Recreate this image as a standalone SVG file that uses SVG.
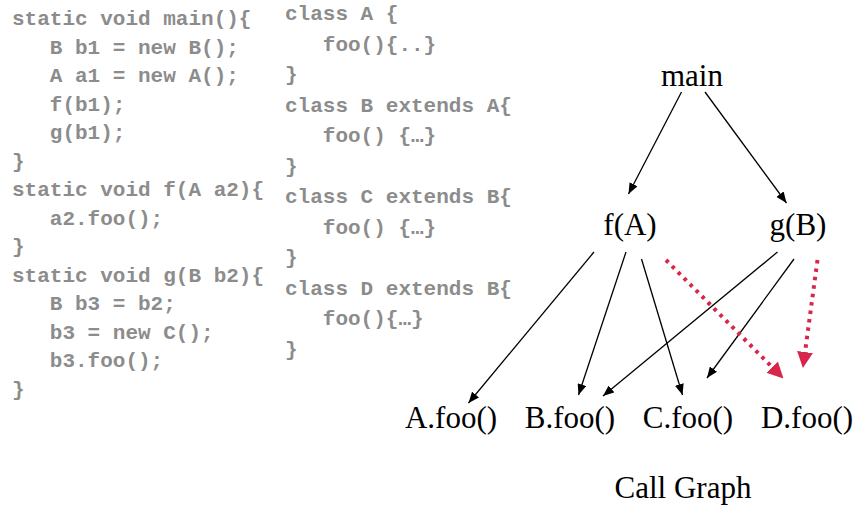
<svg xmlns="http://www.w3.org/2000/svg" width="859" height="511" viewBox="0 0 859 511">
  <style>
    .code { font-family: "Liberation Mono", "Courier New", monospace; font-weight: bold; font-size: 21px; fill: #8c8c8c; white-space: pre; }
    .node { font-family: "Liberation Serif", "Times New Roman", serif; font-size: 31px; fill: #000; text-anchor: middle; }
    .edge { stroke: #000; stroke-width: 1.3; fill: none; marker-end: url(#arrowBlack); }
    .extra { stroke: #d9254a; stroke-width: 4; stroke-dasharray: 3.5 5; fill: none; marker-end: url(#arrowRed); }
  </style>
  <defs>
    <marker id="arrowBlack" viewBox="0 0 11 9" refX="11" refY="4.5" markerWidth="11" markerHeight="9" markerUnits="userSpaceOnUse" orient="auto">
      <path d="M0,0 L11,4.5 L0,9 Z" fill="#000"/>
    </marker>
    <marker id="arrowRed" viewBox="0 0 16 16" refX="4" refY="8" markerWidth="16" markerHeight="16" markerUnits="userSpaceOnUse" orient="auto">
      <path d="M0,0 L16,8 L0,16 Z" fill="#d9254a"/>
    </marker>
  </defs>

  <!-- source listing: static methods -->
  <g id="code-methods">
    <text class="code" x="12" y="25">static void main(){</text>
    <text class="code" x="12" y="53.5">   B b1 = new B();</text>
    <text class="code" x="12" y="82">   A a1 = new A();</text>
    <text class="code" x="12" y="110.5">   f(b1);</text>
    <text class="code" x="12" y="139">   g(b1);</text>
    <text class="code" x="12" y="167.5">}</text>
    <text class="code" x="12" y="196">static void f(A a2){</text>
    <text class="code" x="12" y="224.5">   a2.foo();</text>
    <text class="code" x="12" y="253">}</text>
    <text class="code" x="12" y="281.5">static void g(B b2){</text>
    <text class="code" x="12" y="310">   B b3 = b2;</text>
    <text class="code" x="12" y="338.5">   b3 = new C();</text>
    <text class="code" x="12" y="367">   b3.foo();</text>
    <text class="code" x="12" y="395.5">}</text>
  </g>

  <!-- source listing: class hierarchy -->
  <g id="code-classes">
    <text class="code" x="285" y="20">class A {</text>
    <text class="code" x="285" y="50.5">   foo(){..}</text>
    <text class="code" x="285" y="81">}</text>
    <text class="code" x="285" y="111.5">class B extends A{</text>
    <text class="code" x="285" y="142">   foo() {…}</text>
    <text class="code" x="285" y="172.5">}</text>
    <text class="code" x="285" y="203">class C extends B{</text>
    <text class="code" x="285" y="233.5">   foo() {…}</text>
    <text class="code" x="285" y="264">}</text>
    <text class="code" x="285" y="294.5">class D extends B{</text>
    <text class="code" x="285" y="325">   foo(){…}</text>
    <text class="code" x="285" y="355.5">}</text>
  </g>

  <!-- call graph edges -->
  <g id="connectors">
    <line class="edge" x1="681.5" y1="92" x2="628.5" y2="194"/>
    <line class="edge" x1="705" y1="92" x2="786.5" y2="203"/>
    <line class="edge" x1="594" y1="252" x2="468.5" y2="403"/>
    <line class="edge" x1="626" y1="252" x2="578.5" y2="395"/>
    <line class="edge" x1="641.5" y1="259" x2="682.5" y2="395"/>
    <line class="edge" x1="777.5" y1="252" x2="603" y2="396"/>
    <line class="edge" x1="794" y1="259" x2="707" y2="378"/>
    <line class="extra" x1="666" y1="260" x2="775" y2="370"/>
    <line class="extra" x1="817.5" y1="260" x2="804.5" y2="356"/>
  </g>

  <!-- call graph nodes -->
  <g id="node-main"><text class="node" x="692" y="86">main</text></g>
  <g id="node-f"><text class="node" x="630" y="235">f(A)</text></g>
  <g id="node-g"><text class="node" x="798" y="235">g(B)</text></g>
  <g id="node-Afoo"><text class="node" x="451" y="428">A.foo()</text></g>
  <g id="node-Bfoo"><text class="node" x="570" y="428">B.foo()</text></g>
  <g id="node-Cfoo"><text class="node" x="688" y="428">C.foo()</text></g>
  <g id="node-Dfoo"><text class="node" x="807" y="428">D.foo()</text></g>

  <g id="caption"><text class="node" x="683" y="498">Call Graph</text></g>
</svg>
